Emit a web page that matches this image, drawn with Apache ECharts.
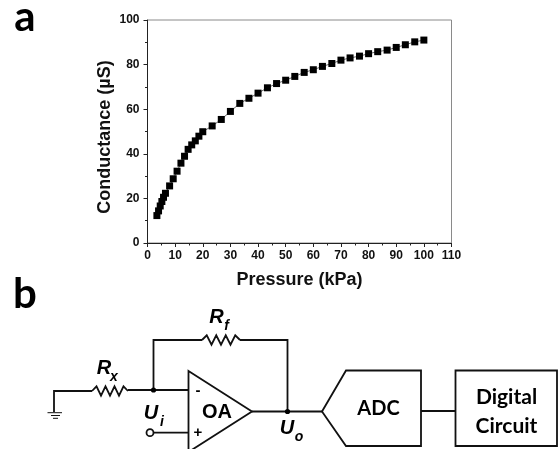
<!DOCTYPE html>
<html>
<head>
<meta charset="utf-8">
<style>html,body{margin:0;padding:0;background:#fff}#c{width:559px;height:449px}</style>
<script src="https://cdn.jsdelivr.net/npm/echarts@6/dist/echarts.min.js"></script>
</head>
<body>
<div id="c"></div>
<script>
const pressure = [3.4,4,4.6,5.2,5.8,6.5,8,9.3,10.7,12.1,13.4,14.7,16,17.3,18.6,20,23.4,26.7,30,33.4,36.7,40,43.4,46.7,50,53.3,56.7,60,63.3,66.7,70,73.3,76.7,80,83.3,86.7,90,93.3,96.7,100];
const conductance = [12.3,14.4,16.6,18.6,20.5,22.3,25.6,28.8,32.2,35.8,38.9,42,44,45.8,47.9,49.9,52.5,55.4,59,62.6,64.9,67.2,69.6,71.5,73,74.7,76.5,77.7,79.2,80.5,82,83,83.8,84.9,85.8,86.5,87.7,88.9,90.2,91];

const INK = '#111';
const wire = (pts, w) => ({type:'polyline', shape:{points:pts}, style:{stroke:INK, fill:null, lineWidth:w||1.8, lineJoin:'miter'}, z:5});
const zig = (x0,x1,y,a) => {
  const n=4, s=(x1-x0)/(n*2), p=[[x0,y]];
  for(let i=0;i<n;i++){p.push([x0+s*(2*i+1),y-a]);p.push([x0+s*(2*i+2),i===n-1?y:y+a]);}
  return p;
};
const txt = (t,x,y,font,extra) => ({type:'text', x, y, style:Object.assign({text:t, font, fill:'#000', textAlign:'center', textVerticalAlign:'middle'},extra||{}), z:6});
const dot = (x,y) => ({type:'circle', shape:{cx:x,cy:y,r:2.6}, style:{fill:'#000'}, z:7});
const BI = 'italic bold 20px "Liberation Sans"';
const sub = 'italic bold 14px "Liberation Sans"';
const graphics = [
  txt('a',25,17,'bold 42px Lato'),
  txt('b',25,294,'bold 42px Lato'),
  wire([[54,412],[54,391],[92,391]]),
  wire(zig(92,128,391,4.7)),
  wire([[128,390],[188,390]]),
  wire([[153.5,390],[153.5,340],[202,340]]),
  wire(zig(202,240,340,4.7)),
  wire([[240,340],[287.5,340],[287.5,411.5]]),
  wire([[252,411.5],[322,411.5]]),
  wire([[47.5,412.7],[62,412.7]],1),
  wire([[51,415.5],[60,415.5]],1),
  wire([[53,418.3],[58,418.3]],1),
  {type:'polygon', shape:{points:[[188.5,371],[252,411.5],[188.5,452]]}, style:{fill:'#fff',stroke:INK,lineWidth:1.8}, z:5},
  wire([[153.5,432.7],[188,432.7]]),
  {type:'circle', shape:{cx:150,cy:432.7,r:3.5}, style:{fill:'#fff',stroke:INK,lineWidth:1.8}, z:6},
  dot(153.5,390), dot(287.5,411.5),
  {type:'polygon', shape:{points:[[322,411.5],[346,370.5],[421,370.5],[421,446],[346,446]]}, style:{fill:'#fff',stroke:INK,lineWidth:1.8}, z:5},
  wire([[421,411],[455.5,411]]),
  {type:'rect', shape:{x:455.5,y:370.5,width:101.5,height:75.5}, style:{fill:'#fff',stroke:INK,lineWidth:1.8}, z:5},
  txt('OA',217,412,'bold 20px "Liberation Sans"'),
  txt('-',198,391,'bold 15px "Liberation Sans"'),
  txt('+',198,433,'bold 15px "Liberation Sans"'),
  txt('ADC',378.5,409,'bold 20px Lato'),
  txt('Digital',506.5,397,'bold 21px Lato'),
  txt('Circuit',506.5,426,'bold 21px Lato'),
  txt('R',216.5,317,BI), txt('f',226.5,326,sub),
  txt('R',104,368,BI), txt('x',114,377,sub),
  txt('U',151,413,BI), txt('i',162,422,sub),
  txt('U',287,428,BI), txt('o',299,437,sub)
];

const chart = echarts.init(document.getElementById('c'), null, {renderer:'canvas'});
const labelStyle = {color:'#111', fontFamily:'"Liberation Sans"', fontWeight:'bold', fontSize:12};
const nameStyle = {color:'#111', fontFamily:'"Liberation Sans"', fontWeight:'bold', fontSize:18};
const axisLine = {show:true, onZero:false, lineStyle:{color:'#222', width:1}};
chart.setOption({
  animation:false,
  backgroundColor:'#fff',
  grid:{left:147.5, right:107.5, top:20, bottom:206, show:true, borderColor:'#8a8a8a', borderWidth:1, backgroundColor:'transparent'},
  xAxis:{type:'value', min:0, max:110, interval:10, name:'Pressure (kPa)', nameLocation:'middle', nameGap:28, nameTextStyle:nameStyle,
    axisLine, axisTick:{show:true, length:4, lineStyle:{color:'#222'}}, minorTick:{show:true, splitNumber:2, length:2.5, lineStyle:{color:'#222'}},
    splitLine:{show:false}, axisLabel:Object.assign({margin:7, showMinLabel:true, showMaxLabel:true, hideOverlap:false}, labelStyle)},
  yAxis:{type:'value', min:0, max:100, interval:20, name:'Conductance (µS)', nameLocation:'middle', nameGap:33, nameMoveOverlap:false, nameTextStyle:Object.assign({padding:[0,11,0,0]},nameStyle), nameRotate:90,
    axisLine, axisTick:{show:true, length:4, lineStyle:{color:'#222'}}, minorTick:{show:true, splitNumber:2, length:2.5, lineStyle:{color:'#222'}},
    splitLine:{show:false}, axisLabel:Object.assign({margin:8, showMinLabel:true, showMaxLabel:true}, labelStyle)},
  series:[{type:'line', data:pressure.map((p,i)=>[p,conductance[i]]), symbol:'rect', symbolSize:7, showAllSymbol:true,
    lineStyle:{color:'#000', width:0.6}, itemStyle:{color:'#000'}, clip:false}],
  graphic:{elements:graphics}
});
</script>
</body>
</html>
